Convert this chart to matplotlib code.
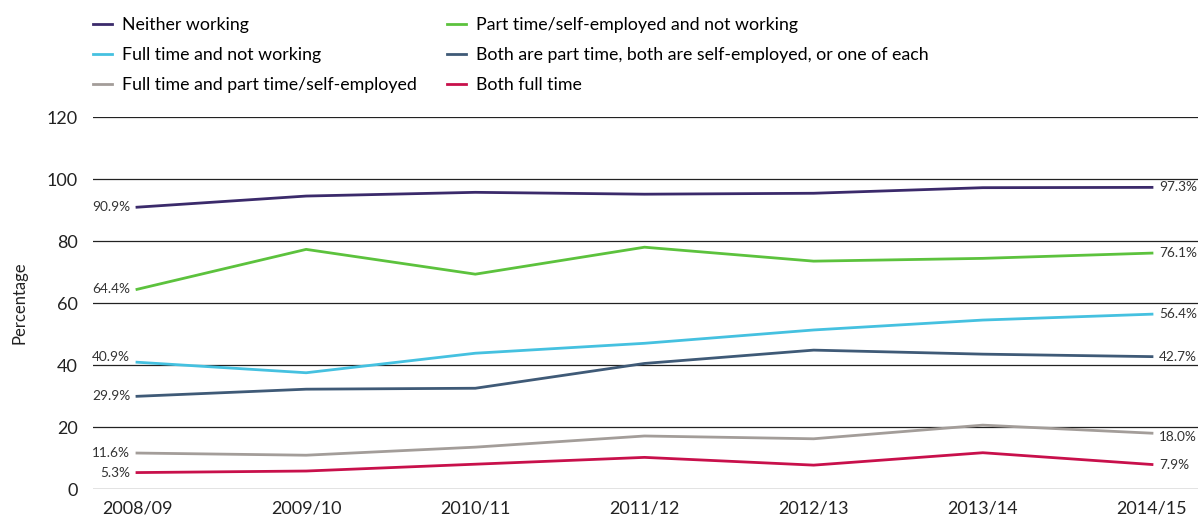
import matplotlib
matplotlib.use('Agg')

import numpy as np
import matplotlib.pyplot as plt

plt.rcParams['font.family'] = ['Lato', 'DejaVu Sans']

years = ['2008/09', '2009/10', '2010/11', '2011/12', '2012/13', '2013/14', '2014/15']

neither_working = [90.9, 94.5, 95.7, 95.1, 95.4, 97.2, 97.3]
part_not_working = [64.4, 77.3, 69.3, 78.0, 73.5, 74.4, 76.1]
full_not_working = [40.9, 37.5, 43.8, 47.0, 51.3, 54.5, 56.4]
both_part = [29.9, 32.2, 32.5, 40.5, 44.8, 43.5, 42.7]
full_and_part = [11.6, 10.9, 13.5, 17.1, 16.2, 20.6, 18.0]
both_full = [5.3, 5.8, 8.0, 10.2, 7.7, 11.7, 7.9]

series = [
    ('Neither working', neither_working, '#3b2a6b'),
    ('Full time and not working', full_not_working, '#45c1e0'),
    ('Full time and part time/self-employed', full_and_part, '#a39d99'),
    ('Part time/self-employed and not working', part_not_working, '#5cc23d'),
    ('Both are part time, both are self-employed, or one of each', both_part, '#3f5a77'),
    ('Both full time', both_full, '#c8104b'),
]

W, H = 1198, 515
fig = plt.figure(figsize=(W / 100, H / 100), dpi=100)
ax = fig.add_axes([93 / W, 1 - 489 / H, 1105 / W, 372 / H])

x = np.arange(len(years))
lines = []
for name, vals, col in series:
    ln, = ax.plot(x, vals, color=col, lw=2, label=name)
    lines.append(ln)
    dy_left = 1.8 if vals is full_not_working else 0
    dy_right = -1.2 if vals is full_and_part else 0
    ax.text(x[0] - 0.04, vals[0] + dy_left, '%.1f%%' % vals[0], ha='right', va='center',
            fontsize=9.8, color='#333333')
    ax.text(x[-1] + 0.04, vals[-1] + dy_right, '%.1f%%' % vals[-1], ha='left', va='center',
            fontsize=9.8, color='#333333')

ax.set_xlim(-0.26, 6.272)
ax.set_ylim(0, 120)
ax.set_yticks([0, 20, 40, 60, 80, 100, 120])
ax.set_xticks(x)
ax.set_xticklabels(years)
ax.tick_params(length=0, labelsize=13, colors='#222222')
ax.tick_params(axis='y', pad=11)
ax.tick_params(axis='x', pad=8)
ax.grid(axis='y', color='#222222', lw=0.9)
ax.set_axisbelow(True)
for s in ax.spines.values():
    s.set_visible(False)
ax.set_ylabel('Percentage', fontsize=12, color='#222222', labelpad=14)

# two legend columns, placed separately
leg_kw = dict(loc='upper left', frameon=False, fontsize=12.8, handlelength=1.05,
              handletextpad=0.6, labelspacing=0.8, borderpad=0, borderaxespad=0)
fig.legend(lines[:3], [s[0] for s in series[:3]], bbox_to_anchor=(93 / W, 1 - 17 / H), **leg_kw)
fig.legend(lines[3:], [s[0] for s in series[3:]], bbox_to_anchor=(447 / W, 1 - 17 / H), **leg_kw)

plt.savefig('out.png', dpi=100)
